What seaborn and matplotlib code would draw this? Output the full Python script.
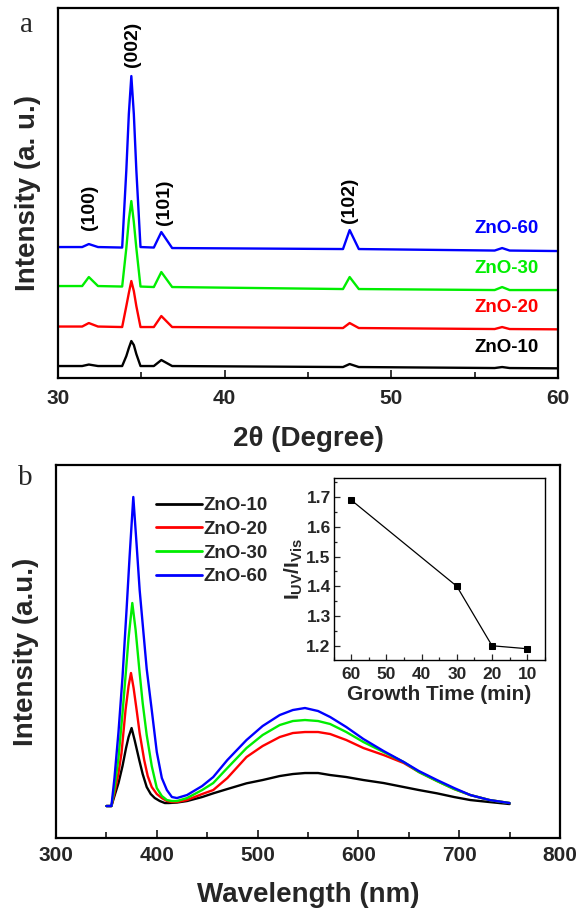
import matplotlib
matplotlib.use("Agg")
import matplotlib.pyplot as plt
import pandas as pd
import seaborn as sns
from matplotlib.ticker import MultipleLocator

# ---------------- XRD patterns (panel a) ----------------
two_theta = [30, 31.45, 31.85, 32.4, 33.85, 34.1, 34.25, 34.4, 34.55, 34.7, 34.95,
             35.75, 36.2, 36.85, 47.1, 47.5, 48.05, 56.2, 56.65, 57.1, 60]
xrd_zno10 = [12, 12, 13.5, 12, 12, 22, 30, 37, 33, 24, 12,
             12, 18, 12, 11, 14, 11, 10, 11, 10, 9.7]
xrd_zno20 = [51.5, 51.5, 55, 51.5, 51, 72, 85, 97, 87, 72, 51,
             51, 62, 51, 50, 55, 50, 49, 51, 49, 48.7]
xrd_zno30 = [92, 92, 101, 92, 91.5, 130, 158, 177, 156, 130, 91.5,
             91, 106, 91, 89, 101, 89, 88, 91, 88, 88]
xrd_zno60 = [131, 131, 134, 131, 130.5, 208, 264, 302, 264, 208, 131,
             130.5, 146, 130, 129, 148, 129, 127.5, 130, 127.5, 127]

peak_labels = ["(100)", "(002)", "(101)", "(102)"]
peak_label_x = [31.9, 34.5, 36.4, 47.5]
peak_label_y = [171, 334, 176, 178]

sample_names = ["ZnO-10", "ZnO-20", "ZnO-30", "ZnO-60"]
xrd_label_y = [31, 71, 110, 150]

# ---------------- PL spectra (panel b) ----------------
wl_zno10 = [350, 355, 358, 362, 366, 369.5, 372, 375, 378, 382.6, 386, 390, 394, 398,
            403, 408, 412, 420, 430, 445, 456, 470, 489, 505, 522, 535, 547, 560,
            572, 588, 605, 625, 645, 660, 678, 695, 711, 730, 750]
pl_zno10 = [32, 32, 42, 55, 72, 90, 101, 110, 98, 78, 64, 51, 44, 40,
            37, 35, 35, 35.5, 37, 41, 44.7, 49, 54.7, 58, 62, 64, 65, 65,
            63, 61, 58, 55, 51, 48, 44.7, 41, 38, 36, 34]

wl_zno20 = [350, 355, 358, 362, 365, 369, 372, 374.4, 377, 380, 383, 387.5, 391, 395,
            400, 405, 410, 415, 420, 430, 445, 456, 470, 489, 505, 522, 535, 547,
            560, 572, 588, 605, 625, 645, 660, 678, 695, 711, 730, 750]
pl_zno20 = [32, 32, 45, 65, 85, 128, 152, 165, 150, 128, 105, 78, 62, 51,
            44, 40, 37, 36, 36, 38, 44, 48, 60, 81, 92, 101, 105, 106,
            106, 104, 98, 90, 83, 75, 66, 57, 49, 43, 38, 35]

wl_zno30 = [350, 355, 358, 362, 366, 369.5, 372, 375.7, 379, 383, 386, 390, 395, 400,
            405, 410, 415, 420, 430, 445, 456, 470, 489, 505, 522, 535, 547, 560,
            572, 588, 605, 625, 645, 660, 678, 695, 711, 730, 750]
pl_zno30 = [32, 32, 50, 80, 125, 168, 200, 235, 208, 165, 135, 103, 72, 50,
            42, 38, 37, 37, 40, 48, 55, 70, 90, 103, 113, 117, 118, 117,
            114, 106, 96, 86, 76, 66, 57, 49, 43, 38, 35]

wl_zno60 = [350, 355, 358, 362, 366, 370, 373, 376.7, 380, 383, 386, 390, 395, 400,
            405, 410, 415, 420, 430, 445, 456, 470, 489, 505, 522, 535, 547, 560,
            572, 588, 605, 625, 645, 660, 678, 695, 711, 730, 750]
pl_zno60 = [32, 32, 60, 106, 161, 228, 281, 341, 293, 248, 214, 169, 128, 86,
            60, 48, 41, 40, 43, 52, 61, 78, 98, 112, 123, 128, 130, 127,
            121, 111, 99, 87, 76, 67, 58, 50, 43, 38, 35]

# ---------------- UV / visible intensity ratio (inset) ----------------
growth_time = [60, 30, 20, 10]
uv_vis_ratio = [1.69, 1.40, 1.20, 1.19]

palette = {"ZnO-10": "#000000", "ZnO-20": "#ff0000",
           "ZnO-30": "#00ee00", "ZnO-60": "#0000ff"}

sns.set_theme(style="ticks")
plt.rcParams["font.family"] = ["Liberation Sans", "DejaVu Sans"]
plt.rcParams["font.weight"] = "bold"
plt.rcParams["axes.labelweight"] = "bold"
plt.rcParams["mathtext.fontset"] = "custom"
plt.rcParams["mathtext.rm"] = "Liberation Sans:bold"
plt.rcParams["mathtext.bf"] = "Liberation Sans:bold"
plt.rcParams["mathtext.it"] = "Liberation Sans:bold"

fig = plt.figure(figsize=(5.76, 9.18), dpi=100)


def style_frame(ax, lw=1.6):
    for sp in ax.spines.values():
        sp.set_visible(True)
        sp.set_color("black")
        sp.set_linewidth(lw)


# ---------------- panel a ----------------
ax_a = fig.add_axes([0.1007, 0.5882, 0.868, 0.403])
xrd_df = pd.concat([
    pd.DataFrame({"two_theta": two_theta, "intensity": vals, "sample": name})
    for name, vals in zip(sample_names, [xrd_zno10, xrd_zno20, xrd_zno30, xrd_zno60])
])
sns.lineplot(data=xrd_df, x="two_theta", y="intensity", hue="sample",
             hue_order=sample_names, palette=palette, linewidth=1.7,
             estimator=None, sort=False, legend=False, ax=ax_a)
ax_a.set_xlim(30, 60)
ax_a.set_ylim(0, 370)
ax_a.set_yticks([])
ax_a.xaxis.set_major_locator(MultipleLocator(10))
ax_a.xaxis.set_minor_locator(MultipleLocator(5))
ax_a.tick_params(axis="x", which="both", direction="in", bottom=True, top=False,
                 width=1.3, labelsize=15, pad=8)
ax_a.tick_params(axis="x", which="major", length=6)
ax_a.tick_params(axis="x", which="minor", length=4)
ax_a.set_xlabel("2θ (Degree)", fontsize=20, fontweight="bold", labelpad=13)
ax_a.set_ylabel("Intensity (a. u.)", fontsize=20, fontweight="bold", labelpad=12)
style_frame(ax_a)

for lab, x, y in zip(peak_labels, peak_label_x, peak_label_y):
    ax_a.text(x, y, lab, rotation=90, ha="center", va="center",
              fontsize=14, fontweight="bold", color="black")
for name, y in zip(sample_names, xrd_label_y):
    ax_a.text(58.85, y, name, ha="right", va="center", fontsize=13.5,
              fontweight="bold", color=palette[name])

fig.text(0.035, 0.965, "a", fontsize=21, family=["Liberation Serif", "DejaVu Serif"],
         fontweight="normal", ha="left", va="baseline")

# ---------------- panel b ----------------
ax_b = fig.add_axes([0.0972, 0.0871, 0.875, 0.4064])
pl_df = pd.concat([
    pd.DataFrame({"wavelength": wl, "intensity": vals, "sample": name})
    for name, wl, vals in zip(sample_names,
                              [wl_zno10, wl_zno20, wl_zno30, wl_zno60],
                              [pl_zno10, pl_zno20, pl_zno30, pl_zno60])
])
sns.lineplot(data=pl_df, x="wavelength", y="intensity", hue="sample",
             hue_order=sample_names, palette=palette, linewidth=1.7,
             estimator=None, sort=False, ax=ax_b)
ax_b.set_xlim(300, 800)
ax_b.set_ylim(0, 373)
ax_b.set_yticks([])
ax_b.xaxis.set_major_locator(MultipleLocator(100))
ax_b.xaxis.set_minor_locator(MultipleLocator(50))
ax_b.tick_params(axis="x", which="both", direction="in", bottom=True, top=False,
                 width=1.3, labelsize=15, pad=6)
ax_b.tick_params(axis="x", which="major", length=6)
ax_b.tick_params(axis="x", which="minor", length=4)
ax_b.set_xlabel("Wavelength (nm)", fontsize=20, fontweight="bold", labelpad=12)
ax_b.set_ylabel("Intensity (a.u.)", fontsize=20, fontweight="bold", labelpad=12)
style_frame(ax_b)

leg = ax_b.legend(loc="upper left", bbox_to_anchor=(0.198, 0.914), frameon=False,
                  fontsize=13.5, handlelength=2.45, handletextpad=0.1,
                  labelspacing=0.35, borderaxespad=0, borderpad=0)
for line in leg.get_lines():
    line.set_linewidth(2.0)
for txt in leg.get_texts():
    txt.set_fontweight("bold")

fig.text(0.032, 0.4717, "b", fontsize=21, family=["Liberation Serif", "DejaVu Serif"],
         fontweight="normal", ha="left", va="baseline")

# ---------------- inset ----------------
ax_in = fig.add_axes([0.579, 0.281, 0.367, 0.198])
ratio_df = pd.DataFrame({"time": growth_time, "ratio": uv_vis_ratio})
sns.lineplot(data=ratio_df, x="time", y="ratio", color="black", linewidth=0.9,
             marker="s", markersize=5, markeredgecolor="black",
             estimator=None, sort=False, ax=ax_in)
ax_in.set_xlim(65, 5)
ax_in.set_ylim(1.152, 1.763)
ax_in.xaxis.set_major_locator(MultipleLocator(10))
ax_in.xaxis.set_minor_locator(MultipleLocator(5))
ax_in.yaxis.set_major_locator(MultipleLocator(0.1))
ax_in.yaxis.set_minor_locator(MultipleLocator(0.05))
ax_in.tick_params(axis="both", which="both", direction="in", width=0.9,
                  labelsize=12.5, pad=2, bottom=True, left=True)
ax_in.tick_params(axis="x", which="both", pad=5)
ax_in.tick_params(axis="both", which="major", length=4)
ax_in.tick_params(axis="both", which="minor", length=2)
ax_in.set_xlabel("Growth Time (min)", fontsize=15, fontweight="bold", labelpad=2)
ax_in.set_ylabel(r"$\mathbf{I_{UV}/I_{Vis}}$", fontsize=15, labelpad=1)
style_frame(ax_in, lw=1.0)

fig.savefig("out.png", dpi=100)
